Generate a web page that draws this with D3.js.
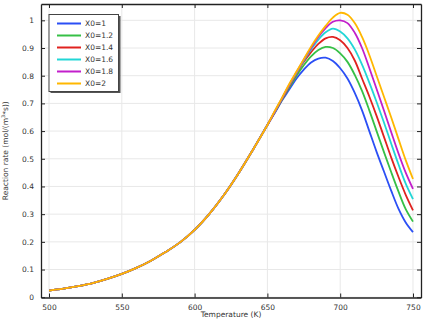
<!DOCTYPE html>
<html>
<head>
<meta charset="utf-8">
<script src="https://cdn.jsdelivr.net/npm/d3@7"></script>
<style>
  body { margin: 0; background: #fff; }
  text { font-family: "DejaVu Sans", sans-serif; fill: #333; }
</style>
</head>
<body>
<div id="chart"></div>
<script>
// shared part of the curves (all X0 overlap below 650 K)
const tempLow = [500, 510, 520, 530, 540, 550, 560, 570, 580, 590, 600, 610, 620, 630, 640];
const rateLow = [0.024, 0.031, 0.040, 0.051, 0.066, 0.084, 0.106, 0.132, 0.163, 0.198, 0.243, 0.300, 0.368, 0.446, 0.532];

// 650..750 K, where the curves split
const tempHigh = [650, 655, 660, 665, 670, 675, 680, 685, 690, 695, 700, 705, 710, 715, 720, 725, 730, 735, 740, 745, 750];
const rateX0_1   = [0.622, 0.665, 0.710, 0.750, 0.790, 0.822, 0.848, 0.862, 0.865, 0.853, 0.827, 0.790, 0.738, 0.675, 0.600, 0.525, 0.455, 0.385, 0.320, 0.270, 0.235];
const rateX0_1_2 = [0.622, 0.667, 0.713, 0.757, 0.800, 0.838, 0.870, 0.893, 0.904, 0.900, 0.881, 0.850, 0.803, 0.745, 0.675, 0.600, 0.525, 0.452, 0.382, 0.318, 0.273];
const rateX0_1_4 = [0.622, 0.668, 0.715, 0.762, 0.807, 0.850, 0.885, 0.915, 0.935, 0.940, 0.928, 0.900, 0.855, 0.790, 0.725, 0.655, 0.580, 0.505, 0.435, 0.370, 0.314];
const rateX0_1_6 = [0.622, 0.669, 0.717, 0.765, 0.810, 0.855, 0.895, 0.930, 0.957, 0.970, 0.960, 0.935, 0.895, 0.840, 0.775, 0.705, 0.632, 0.555, 0.480, 0.410, 0.354];
const rateX0_1_8 = [0.622, 0.670, 0.718, 0.767, 0.813, 0.858, 0.900, 0.940, 0.972, 0.995, 1.000, 0.990, 0.955, 0.900, 0.828, 0.752, 0.675, 0.597, 0.520, 0.450, 0.391];
const rateX0_2   = [0.622, 0.672, 0.720, 0.770, 0.815, 0.860, 0.905, 0.945, 0.980, 1.010, 1.027, 1.020, 0.990, 0.940, 0.875, 0.800, 0.725, 0.650, 0.572, 0.495, 0.427];

const seriesNames = ["X0=1", "X0=1.2", "X0=1.4", "X0=1.6", "X0=1.8", "X0=2"];
const seriesRates = [rateX0_1, rateX0_1_2, rateX0_1_4, rateX0_1_6, rateX0_1_8, rateX0_2];
const colors = ["#2b4ff5", "#36c046", "#e0221f", "#22d6d6", "#c21fcb", "#ffb700"];

const xTicks = [500, 550, 600, 650, 700, 750];
const yTicks = [0, 0.1, 0.2, 0.3, 0.4, 0.5, 0.6, 0.7, 0.8, 0.9, 1];

const svgWidth = 428;
const svgHeight = 321;
const margin = { top: 4, right: 7, bottom: 23.5, left: 41 };
const width = svgWidth - margin.left - margin.right;
const height = svgHeight - margin.top - margin.bottom;

const svg = d3.select("#chart")
  .append("svg")
  .attr("width", svgWidth)
  .attr("height", svgHeight);

const chartGroup = svg.append("g")
  .attr("transform", `translate(${margin.left}, ${margin.top})`);

const xScale = d3.scaleLinear().domain([494.5, 755.5]).range([0, width]);
const yScale = d3.scaleLinear().domain([-0.001, 1.059]).range([height, 0]);

// grid
chartGroup.append("g")
  .selectAll("line")
  .data(xTicks)
  .join("line")
  .attr("x1", d => xScale(d)).attr("x2", d => xScale(d))
  .attr("y1", 0).attr("y2", height)
  .attr("stroke", "#e8e8e8");

chartGroup.append("g")
  .selectAll("line")
  .data(yTicks)
  .join("line")
  .attr("y1", d => yScale(d)).attr("y2", d => yScale(d))
  .attr("x1", 0).attr("x2", width)
  .attr("stroke", "#e8e8e8");

// curves
const data = seriesRates.map((rates, i) => ({
  name: seriesNames[i],
  color: colors[i],
  values: tempLow.map((t, j) => [t, rateLow[j]])
    .concat(tempHigh.map((t, j) => [t, rates[j]]))
}));

const line = d3.line()
  .x(d => xScale(d[0]))
  .y(d => yScale(d[1]))
  .curve(d3.curveCatmullRom.alpha(0.5));

chartGroup.append("g")
  .selectAll("path")
  .data(data)
  .join("path")
  .attr("d", d => line(d.values))
  .attr("fill", "none")
  .attr("stroke", d => d.color)
  .attr("stroke-width", 1.8);

// axes, ticks pointing inward on all four sides
const fmt = d => d3.format("~g")(d);
const bottomAxis = d3.axisBottom(xScale).tickValues(xTicks).tickSizeInner(-4).tickSizeOuter(0).tickPadding(7);
const topAxis = d3.axisTop(xScale).tickValues(xTicks).tickSizeInner(-4).tickSizeOuter(0).tickFormat("");
const leftAxis = d3.axisLeft(yScale).tickValues(yTicks).tickSizeInner(-4).tickSizeOuter(0).tickPadding(7).tickFormat(fmt);
const rightAxis = d3.axisRight(yScale).tickValues(yTicks).tickSizeInner(-4).tickSizeOuter(0).tickFormat("");

const axes = [
  chartGroup.append("g").attr("transform", `translate(0, ${height})`).call(bottomAxis),
  chartGroup.append("g").call(topAxis),
  chartGroup.append("g").call(leftAxis),
  chartGroup.append("g").attr("transform", `translate(${width}, 0)`).call(rightAxis)
];
axes.forEach(a => {
  a.selectAll("path").attr("stroke", "#222").attr("stroke-width", 1.3);
  a.selectAll("line").attr("stroke", "#222");
  a.selectAll("text").style("font-size", "7.5px").attr("fill", "#333");
});

// axis titles
chartGroup.append("text")
  .attr("x", width / 2)
  .attr("y", height + 19)
  .attr("text-anchor", "middle")
  .style("font-size", "7.5px")
  .text("Temperature (K)");

const yTitle = chartGroup.append("text")
  .attr("transform", "rotate(-90)")
  .attr("x", -height / 2)
  .attr("y", -33)
  .attr("text-anchor", "middle")
  .style("font-size", "7.5px");
yTitle.append("tspan").text("Reaction rate (mol/(m");
yTitle.append("tspan").attr("dy", -3).style("font-size", "5px").text("3");
yTitle.append("tspan").attr("dy", 3).text("*s))");

// legend with drop shadow
const legend = chartGroup.append("g").attr("transform", "translate(8, 10.5)");
legend.append("rect")
  .attr("x", 1.5).attr("y", 1.5)
  .attr("width", 70).attr("height", 77)
  .attr("fill", "#555");
legend.append("rect")
  .attr("x", 0).attr("y", 0)
  .attr("width", 69.5).attr("height", 77)
  .attr("fill", "#fff")
  .attr("stroke", "#444")
  .attr("stroke-width", 1);

const rows = legend.selectAll("g.row")
  .data(data)
  .join("g")
  .attr("class", "row")
  .attr("transform", (d, i) => `translate(0, ${9 + i * 12})`);
rows.append("line")
  .attr("x1", 8).attr("x2", 32)
  .attr("stroke", d => d.color)
  .attr("stroke-width", 2);
rows.append("text")
  .attr("x", 36)
  .attr("dy", "0.35em")
  .style("font-size", "7.5px")
  .text(d => d.name);
</script>
</body>
</html>
